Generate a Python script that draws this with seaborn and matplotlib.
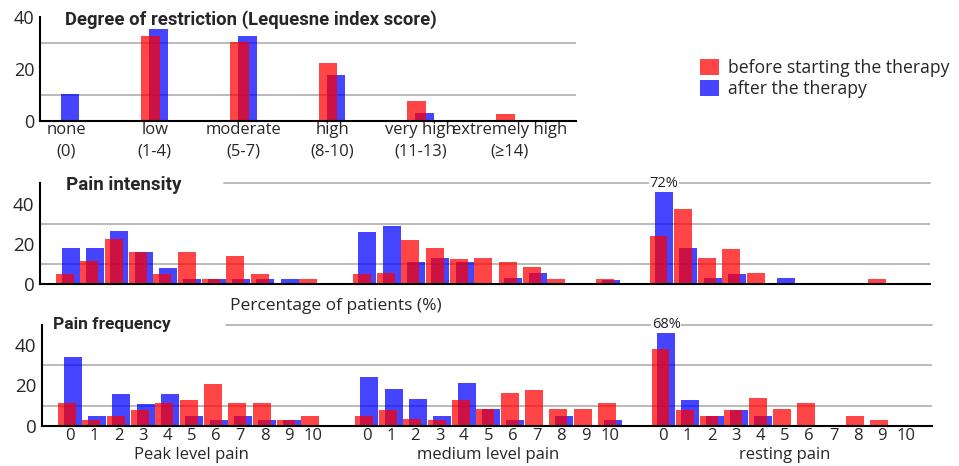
import numpy as np
import pandas as pd
import matplotlib
matplotlib.use("Agg")
import matplotlib.pyplot as plt
from matplotlib.patches import Patch
from matplotlib.transforms import blended_transform_factory
import seaborn as sns

# ---------------- data ----------------
restriction_labels = ["none\n(0)", "low\n(1-4)", "moderate\n(5-7)", "high\n(8-10)",
                      "very high\n(11-13)", "extremely high\n(≥14)"]
restriction_before = [0, 32.6, 30.3, 22.2, 7.6, 2.6]
restriction_after = [10.2, 35.3, 32.6, 17.6, 3.0, 0]

pain_levels = list(range(11))
group_names = ["Peak level pain", "medium level pain", "resting pain"]

intensity_peak_before = [5.1, 11.6, 22.6, 16.1, 5.1, 16.1, 2.7, 14.1, 5.1, 0, 2.7]
intensity_peak_after = [18.1, 18.1, 26.5, 16.1, 8.1, 2.7, 2.7, 2.7, 2.7, 2.7, 0]
intensity_medium_before = [5.1, 5.5, 22.1, 18.1, 12.6, 13.1, 11.1, 8.6, 2.7, 0, 2.7]
intensity_medium_after = [26.0, 29.0, 11.1, 13.1, 11.1, 0, 3.1, 5.6, 0, 0, 2.2]
intensity_rest_before = [24.0, 37.5, 13.1, 17.6, 5.6, 0, 0, 0, 0, 2.7, 0]
intensity_rest_after = [72, 18.1, 3.2, 5.1, 0, 3.2, 0, 0, 0, 0, 0]

frequency_peak_before = [11.3, 2.8, 4.8, 7.8, 11.3, 12.8, 20.7, 11.3, 11.3, 2.8, 4.8]
frequency_peak_after = [34.2, 4.8, 15.8, 10.8, 15.8, 4.8, 2.8, 4.8, 2.8, 2.8, 0]
frequency_medium_before = [4.8, 7.8, 3.3, 2.8, 12.8, 8.3, 16.3, 17.7, 8.3, 8.3, 11.3]
frequency_medium_after = [24.2, 18.2, 13.3, 4.8, 21.2, 8.3, 2.8, 0, 4.8, 0, 2.8]
frequency_rest_before = [38.1, 7.8, 4.8, 7.8, 13.8, 8.3, 11.3, 0, 4.8, 2.8, 0]
frequency_rest_after = [68, 12.8, 4.8, 7.8, 4.8, 0, 0, 0, 0, 0, 0]

series_names = ["before starting the therapy", "after the therapy"]

# ---------------- style ----------------
sns.set_theme(style="white")
plt.rcParams["font.family"] = ["Open Sans", "DejaVu Sans"]
TITLE_FONT = ["Liberation Sans Narrow", "Roboto", "DejaVu Sans"]

RED = "#ff0000"
BLUE = "#0000ff"
ALPHA = 0.73
GRID = "#b4b4b4"

fig = plt.figure(figsize=(9.59, 4.66), dpi=100)
W, H = 959, 466

def axes_px(x0, x1, ytop, ybot):
    return fig.add_axes([x0 / W, 1 - ybot / H, (x1 - x0) / W, (ybot - ytop) / H])

ax_top = axes_px(40, 576, 17, 120.7)
ax_mid = axes_px(40, 930, 183.3, 284.3)
ax_bot = axes_px(42, 932, 325, 425.7)

def style_axes(ax):
    for s in ["top", "right"]:
        ax.spines[s].set_visible(False)
    for s in ["left", "bottom"]:
        ax.spines[s].set_color("black")
        ax.spines[s].set_linewidth(1.5)
    ax.set_xlabel("")
    ax.set_ylabel("")
    ax.set_axisbelow(True)

def bars(ax, pos, vals, color, width):
    df = pd.DataFrame({"pos": pos, "val": vals})
    sns.barplot(data=df, x="pos", y="val", native_scale=True, orient="x",
                width=width, color=color, alpha=ALPHA, saturation=1,
                errorbar=None, linewidth=0, ax=ax)

# ---------------- top panel ----------------
cat_pos = np.arange(len(restriction_labels), dtype=float)
bars(ax_top, cat_pos + 0.045, restriction_after, BLUE, 0.21)
bars(ax_top, cat_pos - 0.045, restriction_before, RED, 0.21)
style_axes(ax_top)
ax_top.set_xlim(-0.293, 5.75)
ax_top.set_ylim(0, 40)
ax_top.set_yticks([10, 20, 30], minor=True)
ax_top.yaxis.grid(True, which="minor", color=GRID, lw=1.3)
ax_top.yaxis.grid(False, which="major")
ax_top.set_yticks([0, 20, 40])
ax_top.set_yticklabels(["0", "20", "40"], fontsize=13)
ax_top.set_xticks(cat_pos)
ax_top.set_xticklabels(restriction_labels, fontsize=12, linespacing=1.45)
ax_top.tick_params(axis="both", which="both", length=0)
ax_top.tick_params(axis="x", pad=1)
ax_top.tick_params(axis="y", pad=4)
fig.text(65 / W, 1 - 20 / H, "Degree of restriction (Lequesne index score)",
         fontsize=13.3, fontweight="bold", family=TITLE_FONT, va="center", ha="left")

# ---------------- pain panels ----------------
G = 12.2
OFF = 1.15
DODGE = 0.115
BW = 0.74
CAP = 46.5

def pain_panel(ax, before_groups, after_groups, title, title_x, title_y, title_size, show_labels):
    lv = np.array(pain_levels, dtype=float)
    pos_b, pos_a, val_b, val_a = [], [], [], []
    for g, (b, a) in enumerate(zip(before_groups, after_groups)):
        base = g * G + OFF + lv
        pos_b += list(base - DODGE)
        pos_a += list(base + DODGE)
        val_b += list(np.minimum(b, CAP))
        val_a += list(np.minimum(a, CAP))
    bars(ax, pos_a, val_a, BLUE, BW)
    bars(ax, pos_b, val_b, RED, BW)
    style_axes(ax)
    ax.set_xlim(0, 36.6)
    ax.set_ylim(0, 50)
    ax.set_yticks([0, 20, 40])
    ax.set_yticklabels(["0", "20", "40"], fontsize=13.5)
    ax.set_yticks([10, 20, 30, 40], minor=True)
    ax.yaxis.grid(True, which="minor", color=GRID, lw=1.3)
    ax.yaxis.grid(False, which="major")
    ax.axhline(50, xmin=(224 - 40) / 890, xmax=1, color=GRID, lw=1.3, zorder=0, clip_on=False)
    ax.tick_params(axis="y", which="both", length=0, pad=4)
    # separators
    ax.set_xticks([G, 2 * G], minor=True)
    ax.tick_params(axis="x", which="minor", direction="inout", length=10, width=1.5, color="black")
    if show_labels:
        ticks, labels = [], []
        for g in range(3):
            for k in pain_levels:
                ticks.append(g * G + OFF + k)
                labels.append(str(k))
        ax.set_xticks(ticks)
        ax.set_xticklabels(labels, fontsize=12)
        ax.tick_params(axis="x", which="major", length=0, pad=2)
        tr = blended_transform_factory(ax.transData, ax.transAxes)
        for g, name in enumerate(group_names):
            ax.text(g * G + OFF + 5, -0.29, name, transform=tr, ha="center", va="center",
                    fontsize=12)
    else:
        ax.set_xticks([])
        ax.tick_params(axis="x", which="major", length=0)
    # capped bars labels
    for g, a in enumerate(after_groups):
        for k, v in enumerate(a):
            if v > CAP:
                ax.text(g * G + OFF + k + DODGE, 50, f"{v:.0f}%", ha="center", va="center",
                        fontsize=10.5, color="#222222",
                        bbox=dict(facecolor="white", edgecolor="none", pad=0.5), zorder=5)
    fig.text(title_x / W, 1 - title_y / H, title, fontsize=title_size, fontweight="bold",
             family=TITLE_FONT, va="center", ha="left")

pain_panel(ax_mid,
           [intensity_peak_before, intensity_medium_before, intensity_rest_before],
           [intensity_peak_after, intensity_medium_after, intensity_rest_after],
           "Pain intensity", 66, 185, 13.5, False)
pain_panel(ax_bot,
           [frequency_peak_before, frequency_medium_before, frequency_rest_before],
           [frequency_peak_after, frequency_medium_after, frequency_rest_after],
           "Pain frequency", 53, 325, 12.5, True)

fig.text(336 / W, 1 - 306 / H, "Percentage of patients (%)", fontsize=12.5,
         ha="center", va="center")

# ---------------- legend ----------------
handles = [Patch(facecolor=RED, alpha=ALPHA, edgecolor="none", label=series_names[0]),
           Patch(facecolor=BLUE, alpha=ALPHA, edgecolor="none", label=series_names[1])]
fig.legend(handles=handles, loc="upper left", bbox_to_anchor=(688 / W, 1 - 47 / H),
           frameon=False, fontsize=12.7, handlelength=1.05, handleheight=1.0,
           handletextpad=0.5, labelspacing=0.15, borderpad=0.2)

fig.savefig("out.png", dpi=100)
